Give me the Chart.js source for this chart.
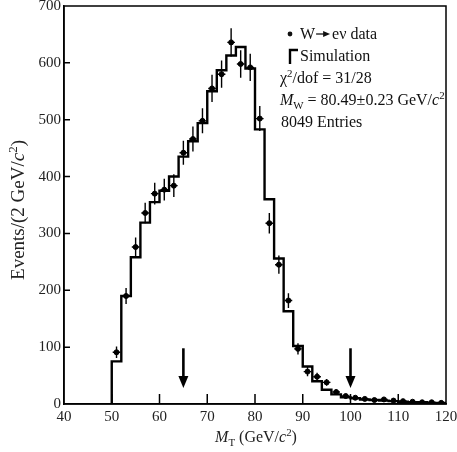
<!DOCTYPE html>
<html><head><meta charset="utf-8">
<script src="https://cdn.jsdelivr.net/npm/chart.js@4.4.0/dist/chart.umd.min.js"></script>
<style>html,body{margin:0;padding:0;background:#fff;}#wrap{width:457px;height:452px;}</style>
</head><body><div id="wrap"><canvas id="c" width="457" height="452"></canvas></div>
<script>
const binEdges = [50,52,54,56,58,60,62,64,66,68,70,72,74,76,78,80,82,84,86,88,90,92,94,96,98,100,102,104,106,108,110,112,114,116,118,120];
const binCenters = [51,53,55,57,59,61,63,65,67,69,71,73,75,77,79,81,83,85,87,89,91,93,95,97,99,101,103,105,107,109,111,113,115,117,119];
const dataCounts = [91,190,276,336,370,377,384,442,466,498,555,580,636,598,592,502,318,245,182,97,57,48,38,21,14,11,9,7,8,6,5,4,3,3,2];
const dataErrors = [10,14,17,18,19,19,20,21,22,22,24,24,25,24,24,22,18,16,13,10,8,7,6,5,4,3,3,3,3,2,2,2,2,2,1];
const simCounts  = [75,190,258,319,355,375,400,435,462,494,550,587,613,628,590,483,360,256,163,102,66,40,25,17,12,10,8,7,6,5,4,3,3,2,2];
const xTickValues = [40,50,60,70,80,90,100,110,120];
const yTickValues = [0,100,200,300,400,500,600,700];
const arrowX = [65, 100];
const arrowTop = 98, arrowTip = 28;
const xErr = 0.8;

const SERIF = '"Liberation Serif", "Times New Roman", serif';

const simLine = [{x: binEdges[0], y: 0}]
  .concat(simCounts.map((v, i) => ({x: binEdges[i], y: v})))
  .concat([{x: binEdges[binEdges.length - 1], y: simCounts[simCounts.length - 1]}]);
const dataPts = binCenters.map((c, i) => ({x: c, y: dataCounts[i]}));

function runFont(r, size) {
  const s = (r.sub || r.sup) ? size * 0.68 : size;
  return (r.italic ? 'italic ' : '') + s + 'px ' + SERIF;
}
function runsWidth(ctx, runs, size) {
  let w = 0;
  runs.forEach(r => { ctx.font = runFont(r, size); w += ctx.measureText(r.t).width; });
  return w;
}
function drawRuns(ctx, x, y, runs, size) {
  let cx = x;
  runs.forEach(r => {
    ctx.font = runFont(r, size);
    const dy = r.sub ? size * 0.28 : (r.sup ? -size * 0.38 : 0);
    ctx.fillText(r.t, cx, y + dy);
    cx += ctx.measureText(r.t).width;
  });
  return cx;
}

const decor = {
  id: 'decor',
  afterDatasetsDraw(chart) {
    const {ctx, scales: {x, y}} = chart;
    ctx.save();
    ctx.strokeStyle = '#000';
    ctx.lineWidth = 1.4;
    binCenters.forEach((c, i) => {
      const px = x.getPixelForValue(c), py = y.getPixelForValue(dataCounts[i]);
      ctx.beginPath();
      ctx.moveTo(px, y.getPixelForValue(dataCounts[i] - dataErrors[i]));
      ctx.lineTo(px, y.getPixelForValue(dataCounts[i] + dataErrors[i]));
      ctx.moveTo(x.getPixelForValue(c - xErr), py);
      ctx.lineTo(x.getPixelForValue(c + xErr), py);
      ctx.stroke();
    });
    arrowX.forEach(ax => {
      const px = x.getPixelForValue(ax);
      const pt = y.getPixelForValue(arrowTop), pb = y.getPixelForValue(arrowTip);
      ctx.lineWidth = 2.6;
      ctx.beginPath(); ctx.moveTo(px, pt); ctx.lineTo(px, pb - 10); ctx.stroke();
      ctx.beginPath(); ctx.moveTo(px - 5, pb - 12); ctx.lineTo(px + 5, pb - 12); ctx.lineTo(px, pb); ctx.closePath();
      ctx.fillStyle = '#000'; ctx.fill();
    });
    ctx.restore();
  },
  afterDraw(chart) {
    const {ctx, scales: {x, y}, chartArea: a} = chart;
    ctx.save();
    ctx.strokeStyle = '#000';
    ctx.lineWidth = 1.5;
    ctx.strokeRect(a.left, a.top, a.right - a.left, a.bottom - a.top);
    ctx.beginPath();
    x.ticks.forEach(t => {
      if (t.value <= x.min || t.value >= x.max) return;
      const px = x.getPixelForValue(t.value);
      ctx.moveTo(px, a.bottom); ctx.lineTo(px, a.bottom - 10);
    });
    y.ticks.forEach(t => {
      if (t.value <= y.min || t.value >= y.max) return;
      const py = y.getPixelForValue(t.value);
      ctx.moveTo(a.left, py); ctx.lineTo(a.left + 6, py);
    });
    ctx.stroke();

    // legend / annotation text
    ctx.fillStyle = '#111';
    ctx.textBaseline = 'alphabetic';
    ctx.beginPath(); ctx.arc(290, 34, 2.4, 0, Math.PI * 2); ctx.fill();
    let cx = drawRuns(ctx, 300, 39, [{t: 'W'}], 16);
    ctx.lineWidth = 1.2;
    ctx.beginPath(); ctx.moveTo(cx + 1, 34); ctx.lineTo(cx + 9, 34); ctx.stroke();
    ctx.beginPath(); ctx.moveTo(cx + 8, 31); ctx.lineTo(cx + 15, 34); ctx.lineTo(cx + 8, 37); ctx.closePath(); ctx.fill();
    drawRuns(ctx, cx + 17, 39, [{t: 'eν data'}], 16);

    ctx.lineWidth = 2.4;
    ctx.beginPath(); ctx.moveTo(290, 64); ctx.lineTo(290, 50); ctx.lineTo(298, 50); ctx.stroke();
    drawRuns(ctx, 300, 61, [{t: 'Simulation'}], 16);

    drawRuns(ctx, 280, 83, [{t: 'χ'}, {t: '2', sup: true}, {t: '/dof = 31/28'}], 16);
    drawRuns(ctx, 280, 105, [{t: 'M', italic: true}, {t: 'W', sub: true}, {t: ' = 80.49±0.23 GeV/'}, {t: 'c', italic: true}, {t: '2', sup: true}], 16);
    drawRuns(ctx, 281, 127, [{t: '8049 Entries'}], 16);

    // x title
    ctx.fillStyle = '#222';
    const runsX = [{t: 'M', italic: true}, {t: 'T', sub: true}, {t: ' (GeV/'}, {t: 'c', italic: true}, {t: '2', sup: true}, {t: ')'}];
    drawRuns(ctx, 256 - runsWidth(ctx, runsX, 16) / 2, 442, runsX, 16);

    // y title
    ctx.translate(24, 210);
    ctx.rotate(-Math.PI / 2);
    const runsY = [{t: 'Events/(2 GeV/'}, {t: 'c', italic: true}, {t: '2', sup: true}, {t: ')'}];
    drawRuns(ctx, -runsWidth(ctx, runsY, 19) / 2, 0, runsY, 19);
    ctx.restore();
  }
};

new Chart(document.getElementById('c'), {
  type: 'scatter',
  data: {
    datasets: [
      {
        type: 'line', label: 'Simulation', data: simLine, stepped: true,
        borderColor: '#000', borderWidth: 2.4, pointRadius: 0, fill: false, order: 2
      },
      {
        type: 'scatter', label: 'W→eν data', data: dataPts,
        backgroundColor: '#000', borderColor: '#000', pointRadius: 2.5, order: 1
      }
    ]
  },
  options: {
    responsive: false, animation: false, devicePixelRatio: 1,
    layout: {padding: {top: 6, right: 11, left: 0, bottom: 0}},
    plugins: {legend: {display: false}, tooltip: {enabled: false}},
    scales: {
      x: {
        type: 'linear', min: 40, max: 120,
        afterBuildTicks: s => { s.ticks = xTickValues.map(v => ({value: v})); },
        ticks: {font: {family: SERIF, size: 15}, color: '#222', padding: 4, maxRotation: 0},
        grid: {display: false, drawTicks: false},
        border: {display: true, color: '#000', width: 1.5},
        afterFit: s => { s.height = 48; s.paddingLeft = 0; s.paddingRight = 0; }
      },
      y: {
        type: 'linear', min: 0, max: 700,
        afterBuildTicks: s => { s.ticks = yTickValues.map(v => ({value: v})); },
        ticks: {font: {family: SERIF, size: 15}, color: '#222', padding: 3},
        grid: {display: false, drawTicks: false},
        border: {display: true, color: '#000', width: 1.5},
        afterFit: s => { s.width = 64; s.paddingTop = 0; s.paddingBottom = 0; }
      }
    }
  },
  plugins: [decor]
});
</script>
</body></html>
